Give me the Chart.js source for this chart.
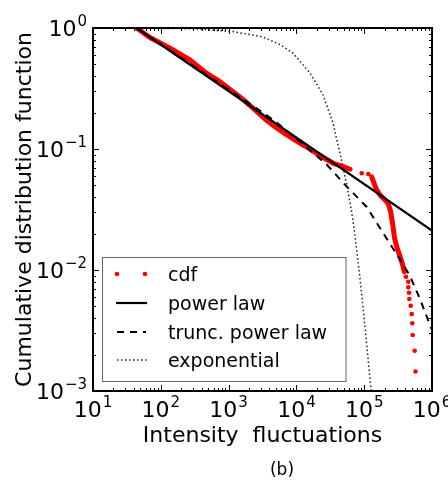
<!DOCTYPE html>
<html lang="en">
<head>
<meta charset="UTF-8">
<title>Cumulative distribution function (b)</title>
<script src="https://cdn.jsdelivr.net/npm/chart.js"></script>
<style>
  body { margin: 0; background: #fff; }
  #wrap { width: 448px; height: 481px; }
</style>
</head>
<body>
<div id="wrap"><canvas id="cdfChart" width="448" height="481"></canvas></div>
<script>
const cdfBodyX = [44, 69, 137, 270, 475, 747, 1242, 1745, 2450, 3440, 4830, 6790, 9530, 13390, 19920, 26400, 35000, 49200, 61800];
const cdfBodyY = [1.0, 0.835, 0.680, 0.544, 0.422, 0.360, 0.289, 0.249, 0.210, 0.177, 0.153, 0.134, 0.1186, 0.1059, 0.0921, 0.0834, 0.0762, 0.0714, 0.0680];
const cdfJumpX = [91900, 114900];
const cdfJumpY = [0.0630, 0.0621];
const cdfKneeX = [129000, 139400, 152700, 171000, 202700, 226600, 246000, 257000, 268600, 280000, 301500, 337400, 369700, 390000];
const cdfKneeY = [0.0590, 0.0521, 0.0459, 0.0417, 0.0379, 0.0351, 0.0303, 0.0259, 0.0221, 0.0184, 0.0156, 0.0129, 0.0110, 0.00968];
const cdfTailX = [413000, 446700, 446700, 458000, 462600, 485000, 502000, 512000, 519000, 555500, 571000];
const cdfTailY = [0.0088, 0.0080, 0.00719, 0.00649, 0.00576, 0.00507, 0.00433, 0.00363, 0.0029, 0.00215, 0.00145];

// fitted curves
const powerX = [44, 1e6];
const powerY = [1.0, 0.0212];
const truncX = [44, 192, 747, 2450, 4830, 10070, 17740, 28000, 49200, 108900, 191400, 337400, 473700, 665000, 1e6];
const truncY = [1.0, 0.576, 0.344, 0.222, 0.170, 0.121, 0.0927, 0.0745, 0.0524, 0.0332, 0.0201, 0.0122, 0.00892, 0.00576, 0.00319];
const expX = [44, 80, 300, 1161, 3213, 5725, 8910, 15860, 24660, 34660, 39260, 43950, 49200, 55720, 66070, 73130, 86700, 102800, 121900, 135000];
const expY = [0.999, 0.996, 0.984, 0.935, 0.842, 0.73, 0.62, 0.425, 0.28, 0.165, 0.12, 0.093, 0.068, 0.05, 0.029, 0.0192, 0.0085, 0.0034, 0.00125, 0.0007];

// axes
const xTickVals = [1e1, 1e2, 1e3, 1e4, 1e5, 1e6];
const xTickExps = ['1', '2', '3', '4', '5', '6'];
const yTickVals = [1e-3, 1e-2, 1e-1, 1];
const yTickExps = ['\u22123', '\u22122', '\u22121', '0'];
const xTitle = 'Intensity  fluctuations';
const yTitle = 'Cumulative distribution function';
const panelLabel = '(b)';
const legendLabels = ['cdf', 'power law', 'trunc. power law', 'exponential'];

const FONT = '"DejaVu Sans", sans-serif';

function toPoints(xs, ys) {
    return xs.map((x, i) => ({ x: x, y: ys[i] }));
}

function drawPow(ctx, exp, x, baseline, align) {
    ctx.font = '22px ' + FONT;
    const wBase = ctx.measureText('10').width;
    ctx.font = '15px ' + FONT;
    const wExp = ctx.measureText(exp).width + 1;
    const start = align === 'center' ? x - (wBase + wExp) / 2 : x - (wBase + wExp);
    ctx.textAlign = 'left';
    ctx.textBaseline = 'alphabetic';
    ctx.font = '22px ' + FONT;
    ctx.fillText('10', start, baseline);
    ctx.font = '15px ' + FONT;
    ctx.fillText(exp, start + wBase + 1, baseline - 10);
}

const framePlugin = {
    id: 'frame',
    afterDraw(chart) {
        const ctx = chart.ctx;
        const a = chart.chartArea;
        const xs = chart.scales.x, ys = chart.scales.y;
        ctx.save();
        ctx.fillStyle = '#000';
        ctx.strokeStyle = '#000';

        // ticks inside, all four sides
        ctx.lineWidth = 1;
        ctx.beginPath();
        for (let d = 1; d <= 6; d++) {
            for (let k = 1; k <= 9; k++) {
                const v = k * Math.pow(10, d);
                if (v > 1e6 * 1.0001) continue;
                const px = Math.round(xs.getPixelForValue(v)) + 0.5;
                const len = k === 1 ? 6 : 3;
                ctx.moveTo(px, a.bottom); ctx.lineTo(px, a.bottom - len);
                ctx.moveTo(px, a.top); ctx.lineTo(px, a.top + len);
            }
        }
        for (let d = -3; d <= 0; d++) {
            for (let k = 1; k <= 9; k++) {
                const v = k * Math.pow(10, d);
                if (v > 1.0001) continue;
                const py = Math.round(ys.getPixelForValue(v)) + 0.5;
                const len = k === 1 ? 6 : 3;
                ctx.moveTo(a.left, py); ctx.lineTo(a.left + len, py);
                ctx.moveTo(a.right, py); ctx.lineTo(a.right - len, py);
            }
        }
        ctx.stroke();

        // frame
        ctx.lineWidth = 2;
        ctx.strokeRect(a.left, a.top, a.right - a.left, a.bottom - a.top);

        // tick labels
        xTickVals.forEach((v, i) => drawPow(ctx, xTickExps[i], xs.getPixelForValue(v), 416.5, 'center'));
        yTickVals.forEach((v, i) => drawPow(ctx, yTickExps[i], 87, ys.getPixelForValue(v) + 8, 'right'));

        // axis titles
        ctx.font = '22px ' + FONT;
        ctx.textAlign = 'center';
        ctx.textBaseline = 'alphabetic';
        ctx.fillText(xTitle, (a.left + a.right) / 2, 441.5);
        ctx.save();
        ctx.translate(31, (a.top + a.bottom) / 2);
        ctx.rotate(-Math.PI / 2);
        ctx.fillText(yTitle, 0, 0);
        ctx.restore();
        ctx.font = '17px ' + FONT;
        ctx.fillText(panelLabel, 282, 475);

        // legend
        ctx.fillStyle = '#fff';
        ctx.fillRect(102.5, 257.5, 243.5, 124);
        ctx.strokeStyle = '#666';
        ctx.lineWidth = 1;
        ctx.strokeRect(102.5, 257.5, 243.5, 124);
        const rows = [274, 303, 332, 360];
        ctx.fillStyle = 'red';
        [117, 145].forEach(cx => {
            ctx.beginPath(); ctx.arc(cx, rows[0], 2.3, 0, Math.PI * 2); ctx.fill();
        });
        ctx.strokeStyle = '#000';
        ctx.lineWidth = 2.2;
        ctx.beginPath(); ctx.moveTo(116, rows[1]); ctx.lineTo(147, rows[1]); ctx.stroke();
        ctx.lineWidth = 2;
        ctx.setLineDash([7, 6]);
        ctx.beginPath(); ctx.moveTo(117, rows[2]); ctx.lineTo(146, rows[2]); ctx.stroke();
        ctx.strokeStyle = '#222';
        ctx.lineWidth = 1.5;
        ctx.setLineDash([1.5, 2.5]);
        ctx.beginPath(); ctx.moveTo(117, rows[3]); ctx.lineTo(147, rows[3]); ctx.stroke();
        ctx.setLineDash([]);
        ctx.fillStyle = '#000';
        ctx.font = '19px ' + FONT;
        ctx.textAlign = 'left';
        legendLabels.forEach((t, i) => ctx.fillText(t, 168, rows[i] + 7));
        ctx.restore();
    }
};

const redLine = {
    showLine: true, borderColor: 'red', borderWidth: 5, pointRadius: 0,
    borderCapStyle: 'round', borderJoinStyle: 'round', clip: 0, order: 5
};
const redDots = {
    showLine: false, pointRadius: 2.3, pointBackgroundColor: 'red',
    pointBorderWidth: 0, clip: 0, order: 5
};

new Chart(document.getElementById('cdfChart').getContext('2d'), {
    type: 'scatter',
    data: {
        datasets: [
            Object.assign({ label: 'cdf', data: toPoints(cdfBodyX, cdfBodyY) }, redLine),
            Object.assign({ label: 'cdf jump', data: toPoints(cdfJumpX, cdfJumpY) }, redDots),
            Object.assign({ label: 'cdf knee', data: toPoints(cdfKneeX, cdfKneeY) }, redLine),
            Object.assign({ label: 'cdf tail', data: toPoints(cdfTailX, cdfTailY) }, redDots),
            {
                label: 'power law', data: toPoints(powerX, powerY), showLine: true,
                borderColor: '#000', borderWidth: 2.2, pointRadius: 0, clip: 0, order: 3
            },
            {
                label: 'trunc. power law', data: toPoints(truncX, truncY), showLine: true,
                borderColor: '#000', borderWidth: 2, borderDash: [7, 6], pointRadius: 0, clip: 0, order: 2
            },
            {
                label: 'exponential', data: toPoints(expX, expY), showLine: true,
                borderColor: '#222', borderWidth: 1.5, borderDash: [1.5, 2.5], pointRadius: 0, clip: 0, order: 1
            }
        ]
    },
    options: {
        responsive: false,
        animation: false,
        layout: { padding: { left: 93, right: 16, top: 28, bottom: 90 } },
        plugins: { legend: { display: false }, tooltip: { enabled: false } },
        scales: {
            x: {
                type: 'logarithmic', min: 10, max: 1e6,
                ticks: { display: false }, grid: { display: false }, border: { display: false },
                afterFit: s => { s.height = 0; }
            },
            y: {
                type: 'logarithmic', min: 1e-3, max: 1,
                ticks: { display: false }, grid: { display: false }, border: { display: false },
                afterFit: s => { s.width = 0; }
            }
        }
    },
    plugins: [framePlugin]
});
</script>
</body>
</html>
